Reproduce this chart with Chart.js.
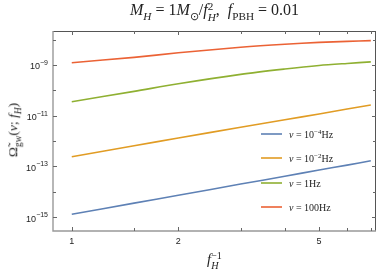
<!DOCTYPE html>
<html>
<head>
<meta charset="utf-8">
<script src="https://cdn.jsdelivr.net/npm/chart.js@4.4.1/dist/chart.umd.min.js"></script>
<style>
body { margin: 0; background: #fff; }
#wrap { position: relative; width: 382px; height: 273px; }
.t { position: absolute; font-family: "Liberation Serif", serif; color: #222; white-space: nowrap; line-height: 1; }
.t sub, .t sup { font-size: 70%; line-height: 0; }
.ss { display: inline-block; vertical-align: middle; font-size: 70%; line-height: 0.95; text-align: left; }
.ss span { display: block; }
#title { left: 0; width: 429px; text-align: center; top: 1px; font-size: 16px; }
#xtitle { left: 0; width: 429px; text-align: center; top: 251px; font-size: 14.5px; }
#ytitle { left: 13px; top: 130px; font-size: 13.5px; transform: translate(-50%, -50%) rotate(-90deg); }
</style>
</head>
<body>
<div id="wrap">
  <canvas id="c" width="382" height="273"></canvas>
  <div class="t" id="title"><i>M</i><sub><i>H</i></sub> = 1<i>M</i><sub>⊙</sub>/<i>f</i><span class="ss"><span>2</span><span><i>H</i></span></span>,&nbsp; <i>f</i><sub>PBH</sub> = 0.01</div>
  <div class="t" id="xtitle"><i>f</i><span class="ss"><span>−1</span><span><i>H</i></span></span></div>
  <div class="t" id="ytitle">Ω̃<sub>gw</sub>(<i>ν</i>; <i>f</i><sub><i>H</i></sub>)</div>
</div>
<script>
var xValues = [1, 1.5, 2, 3, 4, 5, 6, 7];

var nu1e4 = [1.29e-15, 3.55e-15, 7.24e-15, 2.00e-14, 4.07e-14, 7.24e-14, 1.12e-13, 1.66e-13];
var nu1e2 = [2.40e-13, 6.46e-13, 1.32e-12, 3.47e-12, 6.92e-12, 1.17e-11, 1.82e-11, 2.63e-11];
var nu1 = [3.55e-11, 9.12e-11, 1.82e-10, 4.27e-10, 6.92e-10, 9.55e-10, 1.15e-9, 1.32e-9];
var nu100 = [1.23e-9, 2.00e-9, 3.02e-9, 5.01e-9, 6.61e-9, 7.76e-9, 8.51e-9, 9.12e-9];

var seriesNames = ["1e-4", "1e-2", "1", "100"];
var seriesColors = ["#5e81b5", "#e19c24", "#8fb032", "#eb6235"];

var xMajorTicks = [1, 2, 5];
var xMinorTicks = [1.5, 3, 4, 6, 7];
var yTickExps = [-8, -9, -10, -11, -12, -13, -14, -15];
var yLabelExps = [-9, -11, -13, -15];

function pts(ys) {
  return xValues.map(function(x, i){ return {x: x, y: ys[i]}; });
}

var allSeries = [nu1e4, nu1e2, nu1, nu100];
var datasets = allSeries.map(function(s, i){
  return {
    label: seriesNames[i],
    data: pts(s),
    borderColor: seriesColors[i],
    borderWidth: 1.6,
    pointRadius: 0,
    fill: false,
    tension: 0.3
  };
});

var framePlugin = {
  id: "frame",
  afterDraw: function(chart){
    var ctx = chart.ctx;
    var a = chart.chartArea;
    var xs = chart.scales.x, ys = chart.scales.y;
    ctx.save();

    // frame
    ctx.lineWidth = 1;
    ctx.strokeStyle = "#555";
    ctx.beginPath();
    ctx.moveTo(a.left, a.top + 0.5); ctx.lineTo(a.right, a.top + 0.5);
    ctx.moveTo(a.right - 0.5, a.top); ctx.lineTo(a.right - 0.5, a.bottom);
    ctx.stroke();
    ctx.strokeStyle = "#999";
    ctx.lineWidth = 1.4;
    ctx.beginPath();
    ctx.moveTo(a.left, a.top); ctx.lineTo(a.left, a.bottom);
    ctx.lineTo(a.right, a.bottom);
    ctx.stroke();

    // ticks on all four sides, pointing in
    ctx.strokeStyle = "#666";
    ctx.lineWidth = 1;
    ctx.beginPath();
    xMajorTicks.concat(xMinorTicks).forEach(function(v){
      var len = xMajorTicks.indexOf(v) >= 0 ? 4 : 3;
      var px = Math.round(xs.getPixelForValue(v)) + 0.5;
      ctx.moveTo(px, a.bottom); ctx.lineTo(px, a.bottom - len);
      ctx.moveTo(px, a.top); ctx.lineTo(px, a.top + len);
    });
    yTickExps.forEach(function(e){
      var len = yLabelExps.indexOf(e) >= 0 ? 4 : 3;
      var py = Math.round(ys.getPixelForValue(Math.pow(10, e))) + 0.5;
      ctx.moveTo(a.left, py); ctx.lineTo(a.left + len, py);
      ctx.moveTo(a.right, py); ctx.lineTo(a.right - len, py);
    });
    ctx.stroke();

    // tick labels
    ctx.fillStyle = "#222";
    ctx.font = "9px 'Liberation Sans', Arial, sans-serif";
    ctx.textAlign = "center";
    ctx.textBaseline = "middle";
    xMajorTicks.forEach(function(v){
      ctx.fillText(String(v), xs.getPixelForValue(v), a.bottom + 11);
    });
    yLabelExps.forEach(function(e){
      var py = ys.getPixelForValue(Math.pow(10, e));
      var sup = "\u2212" + String(-e);
      ctx.font = "7px 'Liberation Sans', Arial, sans-serif";
      var w2 = ctx.measureText(sup).width;
      ctx.font = "9px 'Liberation Sans', Arial, sans-serif";
      var w1 = ctx.measureText("10").width;
      var right = a.left - 5;
      ctx.textAlign = "left";
      ctx.fillText("10", right - w1 - w2, py + 2);
      ctx.font = "7px 'Liberation Sans', Arial, sans-serif";
      ctx.fillText(sup, right - w2, py - 2);
    });

    // legend
    var ly = [134, 158, 183, 207];
    chart.data.datasets.forEach(function(ds, i){
      var y = ly[i];
      ctx.strokeStyle = ds.borderColor;
      ctx.lineWidth = 1.6;
      ctx.beginPath();
      ctx.moveTo(261, y); ctx.lineTo(282, y);
      ctx.stroke();
      var x = 289;
      ctx.fillStyle = "#222";
      ctx.textAlign = "left";
      ctx.textBaseline = "alphabetic";
      ctx.font = "italic 10px 'Liberation Serif', serif";
      ctx.fillText("\u03bd", x, y + 3.5);
      x += ctx.measureText("\u03bd").width;
      ctx.font = "10px 'Liberation Serif', serif";
      var name = seriesNames[i];
      if (name.indexOf("e") >= 0) {
        var s1 = " = 10";
        ctx.fillText(s1, x, y + 3.5);
        x += ctx.measureText(s1).width;
        ctx.font = "7px 'Liberation Serif', serif";
        var ex = "\u2212" + name.split("-")[1];
        ctx.fillText(ex, x, y - 0.5);
        x += ctx.measureText(ex).width;
        ctx.font = "10px 'Liberation Serif', serif";
        ctx.fillText("Hz", x, y + 3.5);
      } else {
        ctx.fillText(" = " + name + "Hz", x, y + 3.5);
      }
    });
    ctx.restore();
  }
};

new Chart(document.getElementById("c"), {
  type: "line",
  data: { datasets: datasets },
  options: {
    responsive: false,
    animation: false,
    devicePixelRatio: 1,
    layout: { padding: { left: 53, right: 6, top: 31, bottom: 42 } },
    plugins: { legend: { display: false }, tooltip: { enabled: false }, title: { display: false } },
    scales: {
      x: { type: "logarithmic", min: 0.885, max: 7.24, display: false },
      y: { type: "logarithmic", min: 2.82e-16, max: 2.19e-8, display: false }
    }
  },
  plugins: [framePlugin]
});
</script>
</body>
</html>
